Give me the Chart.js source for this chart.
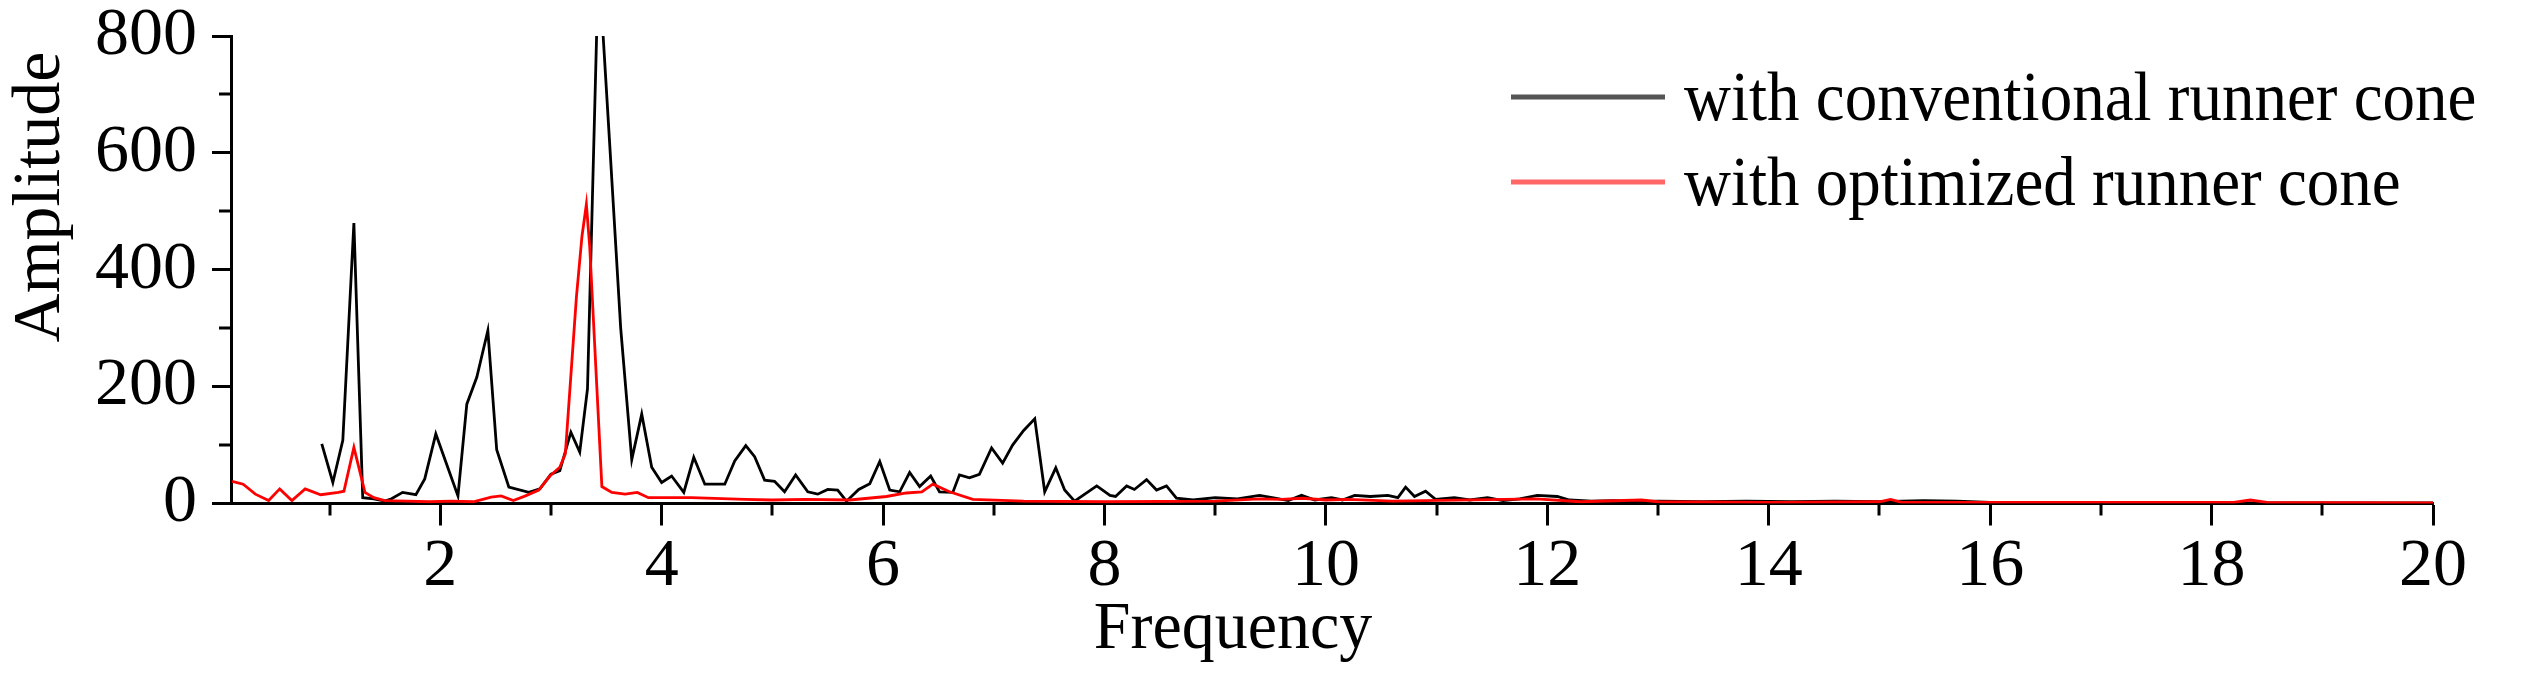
<!DOCTYPE html>
<html>
<head>
<meta charset="utf-8">
<script src="https://cdn.jsdelivr.net/npm/chart.js@4.4.1/dist/chart.umd.min.js"></script>
<style>
html,body{margin:0;padding:0;background:#ffffff;}
#wrap{width:2530px;height:677px;position:relative;}
</style>
</head>
<body>
<div id="wrap"><canvas id="c" width="2530" height="677"></canvas></div>
<script>
// ---- data ----
const seriesNames = ['with conventional runner cone', 'with optimized runner cone'];

const freqConv = [0.93,1.03,1.12,1.22,1.30,1.40,1.50,1.56,1.66,1.78,1.86,1.96,2.16,2.24,2.33,2.43,2.51,2.62,2.80,2.90,
  3.00,3.08,3.18,3.26,3.33,3.43,3.53,3.63,3.73,3.82,3.91,4.00,4.09,4.20,4.29,4.39,4.57,4.66,4.76,4.84,
  4.93,5.02,5.11,5.21,5.32,5.41,5.50,5.59,5.67,5.78,5.88,5.97,6.06,6.15,6.24,6.33,6.43,6.51,6.63,6.69,
  6.78,6.87,6.98,7.08,7.17,7.27,7.37,7.46,7.56,7.64,7.73,7.93,8.05,8.10,8.20,8.27,8.38,8.47,8.56,8.65,
  8.80,9.00,9.20,9.40,9.54,9.66,9.78,9.90,10.05,10.15,10.26,10.40,10.56,10.65,10.72,10.80,10.90,10.99,11.16,11.30,
  11.46,11.60,11.75,11.91,12.09,12.20,12.40,12.60,12.80,13.00,13.40,13.80,14.20,14.60,15.00,15.40,15.70,16.00,17.00,18.00,
  19.00,20.00];
const ampConv = [102,36,108,480,10,8,4,8,19,15,42,119,13,170,216,296,92,28,19,25,
  50,56,122,88,196,930,617,300,75,153,62,36,47,19,79,33,33,73,99,80,
  40,38,20,49,20,16,24,23,4,24,34,72,23,20,53,29,47,20,19,49,
  44,50,95,69,100,125,145,20,61,23,4,30,14,12,30,24,41,23,30,9,
  6,10,8,14,9,5,14,6,10,6,14,12,14,10,28,12,21,7,10,6,
  10,5,8,14,12,6,4,5,3,4,3,4,3,4,3,5,4,2,2,1,
  1,1];

const freqOpt = [0.12,0.22,0.33,0.45,0.55,0.66,0.78,0.92,1.08,1.13,1.22,1.32,1.40,1.50,1.70,1.90,2.10,2.30,2.46,2.55,
  2.66,2.77,2.89,2.99,3.08,3.13,3.23,3.28,3.32,3.35,3.46,3.55,3.67,3.78,3.88,4.27,4.75,5.00,5.30,5.70,
  6.03,6.21,6.35,6.45,6.60,6.81,7.27,8.00,9.00,9.40,9.60,9.79,10.00,10.20,10.60,11.90,12.30,12.85,13.00,14.00,
  15.00,15.10,15.20,16.00,18.20,18.35,18.50,20.00];
const ampOpt = [38,33,16,5,25,5,25,15,19,21,96,19,10,5,4,3,4,3,11,13,
  5,13,23,47,62,85,353,457,512,440,29,19,16,19,10,10,7,6,7,6,
  12,18,20,33,20,7,4,3,4,8,7,9,6,7,4,8,3,6,3,2,
  3,7,2,2,2,6,2,1];

const xTickValues = [1,2,3,4,5,6,7,8,9,10,11,12,13,14,15,16,17,18,19,20];
const yTickValues = [0,100,200,300,400,500,600,700,800];
const xTitle = 'Frequency';
const yTitle = 'Amplitude';

// ---- styling ----
const FONT = '"Liberation Serif", "Times New Roman", Times, serif';
const FONT_SIZE = 68;

const decor = {
  id: 'decor',
  afterDraw(chart) {
    const ctx = chart.ctx;
    const xs = chart.scales.x, ys = chart.scales.y;
    const ca = chart.chartArea;
    ctx.save();
    // minor ticks
    ctx.strokeStyle = '#000';
    ctx.lineWidth = 3;
    ctx.beginPath();
    xTickValues.forEach(v => {
      if (v % 2 !== 0) {
        const px = Math.round(xs.getPixelForValue(v));
        ctx.moveTo(px, ca.bottom);
        ctx.lineTo(px, ca.bottom + 12);
      }
    });
    yTickValues.forEach(v => {
      if (v % 200 !== 0) {
        const py = Math.round(ys.getPixelForValue(v));
        ctx.moveTo(ca.left - 12, py);
        ctx.lineTo(ca.left, py);
      }
    });
    ctx.stroke();

    // axis titles (slightly tall glyphs as in the reference)
    ctx.fillStyle = '#000';
    ctx.textBaseline = 'alphabetic';
    ctx.font = '66px ' + FONT;
    ctx.textAlign = 'center';
    ctx.save();
    ctx.translate(1233, 648);
    ctx.scale(1, 1.04);
    ctx.fillText(xTitle, 0, 0);
    ctx.restore();
    ctx.save();
    ctx.translate(59, 197);
    ctx.rotate(-Math.PI / 2);
    ctx.font = '68px ' + FONT;
    ctx.fillText(yTitle, 0, 0);
    ctx.restore();

    // legend
    const legendColors = ['#555555', '#ff6666'];
    ctx.font = '65px ' + FONT;
    chart.data.datasets.forEach((ds, i) => {
      const ly = 97 + 85 * i;
      ctx.strokeStyle = legendColors[i];
      ctx.lineWidth = 5;
      ctx.beginPath();
      ctx.moveTo(1511, ly);
      ctx.lineTo(1665, ly);
      ctx.stroke();
      ctx.fillStyle = '#000';
      ctx.textAlign = 'left';
      ctx.save();
      ctx.translate(1684, 120 + 85 * i);
      ctx.scale(1, 1.06);
      ctx.fillText(ds.label, 0, 0);
      ctx.restore();
    });
    ctx.restore();
  }
};

const tickFont = { family: FONT, size: FONT_SIZE };

new Chart(document.getElementById('c'), {
  type: 'line',
  data: {
    datasets: [
      {
        label: seriesNames[0],
        data: freqConv.map((f, i) => ({ x: f, y: ampConv[i] })),
        borderColor: '#000000',
        borderWidth: 2.8,
        pointRadius: 0,
        tension: 0,
        fill: false,
        clip: 0,
        order: 1
      },
      {
        label: seriesNames[1],
        data: freqOpt.map((f, i) => ({ x: f, y: ampOpt[i] })),
        borderColor: '#ff0000',
        borderWidth: 2.8,
        pointRadius: 0,
        tension: 0,
        fill: false,
        clip: 0,
        order: 0
      }
    ]
  },
  options: {
    responsive: false,
    animation: false,
    devicePixelRatio: 1,
    layout: { padding: { left: 0, right: 97, top: 36, bottom: 0 } },
    plugins: {
      legend: { display: false },
      tooltip: { enabled: false },
      title: { display: false }
    },
    scales: {
      x: {
        type: 'linear',
        min: 0.11,
        max: 20,
        afterFit: s => { s.height = 173.5; s.paddingLeft = 0; s.paddingRight = 0; },
        afterBuildTicks: s => { s.ticks = xTickValues.map(v => ({ value: v })); },
        grid: {
          display: true,
          drawOnChartArea: false,
          drawTicks: true,
          tickLength: 22,
          tickWidth: 3,
          tickColor: c => (c.tick && c.tick.value % 2 === 0) ? '#000' : 'rgba(0,0,0,0)'
        },
        border: { display: true, color: '#000', width: 3 },
        ticks: {
          autoSkip: false,
          maxRotation: 0,
          minRotation: 0,
          padding: 1,
          color: '#000',
          font: tickFont,
          callback: v => (v % 2 === 0 ? String(v) : '')
        },
        title: { display: false }
      },
      y: {
        type: 'linear',
        min: 0,
        max: 800,
        afterFit: s => { s.width = 231; s.paddingTop = 0; s.paddingBottom = 0; },
        afterBuildTicks: s => { s.ticks = yTickValues.map(v => ({ value: v })); },
        grid: {
          display: true,
          drawOnChartArea: false,
          drawTicks: true,
          tickLength: 19,
          tickWidth: 3,
          tickColor: c => (c.tick && c.tick.value % 200 === 0) ? '#000' : 'rgba(0,0,0,0)'
        },
        border: { display: true, color: '#000', width: 3 },
        ticks: {
          autoSkip: false,
          padding: 15,
          color: '#000',
          font: tickFont,
          callback: v => (v % 200 === 0 ? String(v) : '')
        },
        title: { display: false }
      }
    }
  },
  plugins: [decor]
});
</script>
</body>
</html>
